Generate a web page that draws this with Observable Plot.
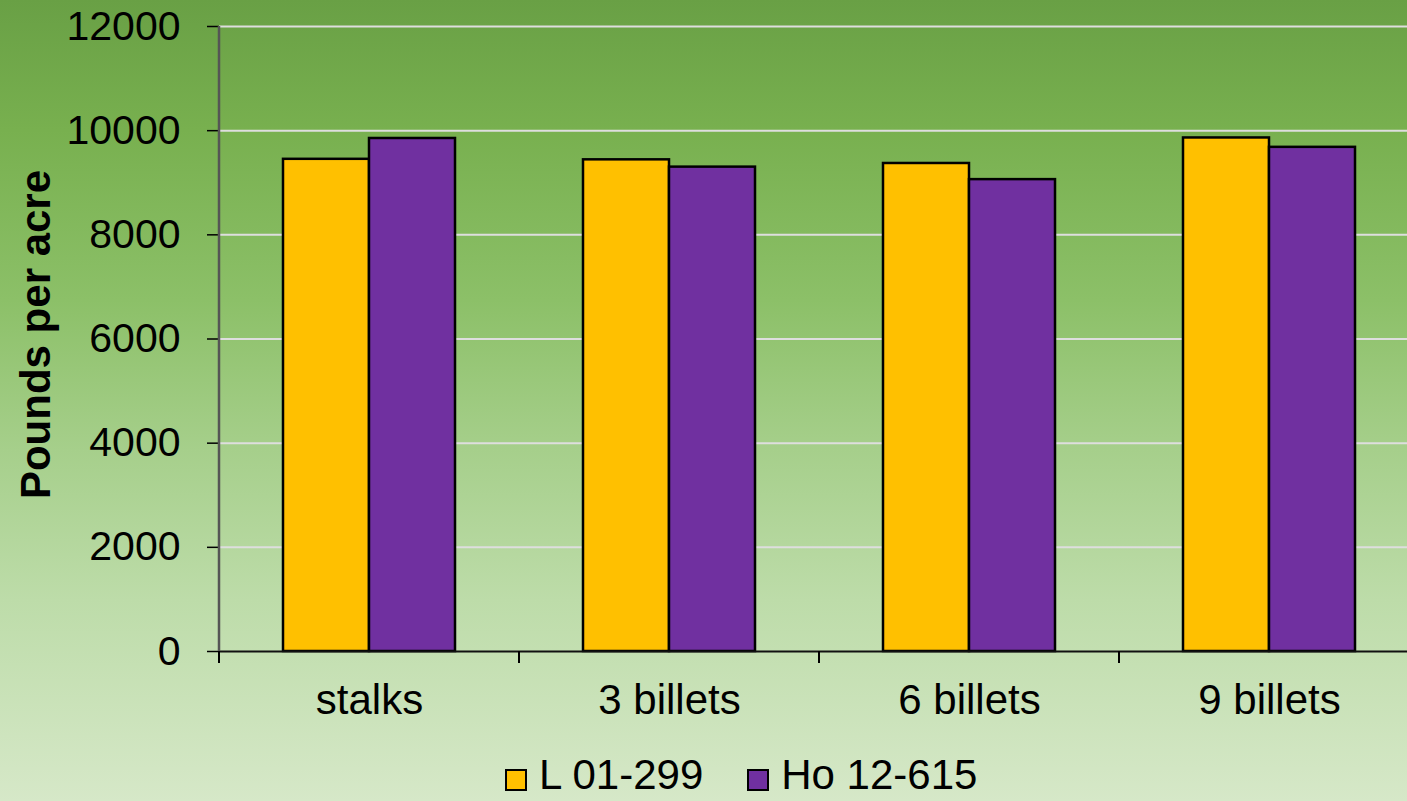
<!DOCTYPE html>
<html>
<head>
<meta charset="utf-8">
<script src="https://cdn.jsdelivr.net/npm/d3@7"></script>
<script src="https://cdn.jsdelivr.net/npm/@observablehq/plot@0.6"></script>
<style>
  html, body { margin: 0; padding: 0; }
  #page {
    position: relative;
    width: 1407px;
    height: 801px;
    overflow: hidden;
    font-family: "Liberation Sans", Arial, sans-serif;
    background: linear-gradient(to bottom,
      #69a045 0px, #78b04f 130px, #8cc068 300px, #a6cf8b 450px, #bddca9 600px, #d6e8c8 801px);
  }
  #chart svg { display: block; overflow: visible; }
  #legend {
    position: absolute;
    left: 505px;
    top: 758px;
    display: flex;
    align-items: center;
    font-size: 42px;
    line-height: 34px;
    color: #000;
    white-space: nowrap;
  }
  .item { display: flex; align-items: center; margin-right: 44px; }
  .swatch {
    width: 18px; height: 18px;
    border: 2px solid #000;
    margin-right: 12px;
    margin-top: 10px;
  }
</style>
</head>
<body>
<div id="page">
  <div id="chart"></div>
  <div id="legend"></div>
</div>
<script>
// Yield by planting material, two sugarcane varieties
const categories = ["stalks", "3 billets", "6 billets", "9 billets"];
const series = ["L 01-299", "Ho 12-615"];
const colors = ["#ffc000", "#7030a0"];
const valuesL = [9450, 9440, 9370, 9860];
const valuesHo = [9850, 9300, 9060, 9680];
const yTicks = [0, 2000, 4000, 6000, 8000, 10000, 12000];

const data = categories.flatMap((c, i) => [
  {category: c, series: series[0], value: valuesL[i]},
  {category: c, series: series[1], value: valuesHo[i]}
]);

const chart = Plot.plot({
  width: 1407,
  height: 752,
  marginLeft: 219,
  marginRight: -12,
  marginTop: 26,
  marginBottom: 101,
  style: {background: "transparent", fontFamily: "'Liberation Sans', Arial, sans-serif", color: "#000"},
  fx: {domain: categories, padding: 0, label: null},
  x: {domain: series, paddingInner: 0, paddingOuter: 0.744, axis: null},
  y: {domain: [0, 12000], ticks: yTicks, label: null},
  color: {domain: series, range: colors},
  marks: [
    Plot.gridY(yTicks.slice(1), {stroke: "#dedede", strokeOpacity: 1, strokeWidth: 2}),
    Plot.axisY({
      ticks: yTicks, tickSize: 12, tickPadding: 27, fontSize: 41,
      stroke: "#000", strokeWidth: 1.5, tickFormat: d => String(d), label: null
    }),
    Plot.axisFx({anchor: "bottom", tickSize: 0, tickPadding: 33, fontSize: 42, label: null}),
    Plot.barY(data, {
      fx: "category", x: "series", y: "value",
      fill: "series", stroke: "#000", strokeWidth: 2.5
    }),
    Plot.ruleY([0], {stroke: "#111", strokeWidth: 2})
  ]
});

document.getElementById("chart").appendChild(chart);

// Vertical axis line, tick marks at category boundaries, and the axis title
const svg = d3.select(chart);
const fx = chart.scale("fx");
const y = chart.scale("y");
const y0 = y.apply(0);
const yTop = y.apply(12000);
const left = fx.apply(categories[0]);

svg.append("line")
  .attr("x1", left).attr("x2", left)
  .attr("y1", yTop).attr("y2", y0)
  .attr("stroke", "#555").attr("stroke-width", 2.5);

svg.append("g").selectAll("line")
  .data(categories)
  .join("line")
  .attr("x1", d => fx.apply(d)).attr("x2", d => fx.apply(d))
  .attr("y1", y0).attr("y2", y0 + 12)
  .attr("stroke", "#000").attr("stroke-width", 2);

svg.append("text")
  .attr("transform", `translate(35,${(y0 + yTop) / 2 - 4}) rotate(-90)`)
  .attr("text-anchor", "middle")
  .attr("dominant-baseline", "central")
  .attr("font-size", 42)
  .attr("font-weight", "bold")
  .attr("fill", "#000")
  .text("Pounds per acre");

// Legend below the chart
const legend = d3.select("#legend");
series.forEach((s, i) => {
  const item = legend.append("div").attr("class", "item");
  item.append("div").attr("class", "swatch").style("background", colors[i]);
  item.append("span").text(s);
});
</script>
</body>
</html>
